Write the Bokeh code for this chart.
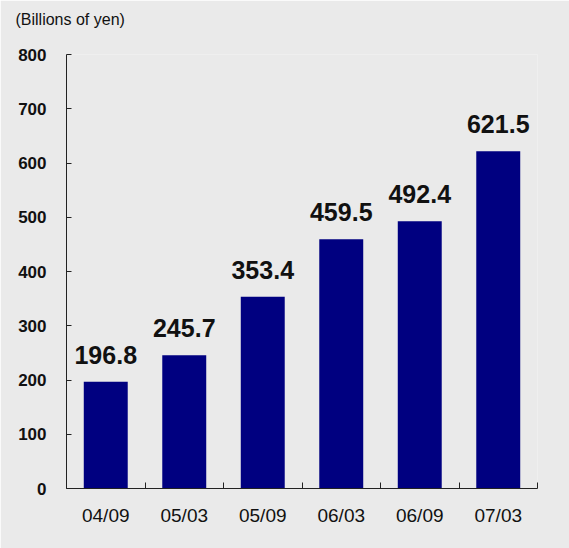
from bokeh.plotting import figure
from bokeh.models import FixedTicker, Range1d, ColumnDataSource, Title
from bokeh.core.properties import value
from bokeh.embed import file_html
from bokeh.resources import INLINE

# ---- data ----
categories = ["04/09", "05/03", "05/09", "06/03", "06/09", "07/03"]
amounts = [196.8, 245.7, 353.4, 459.5, 492.4, 621.5]
y_ticks = [0, 100, 200, 300, 400, 500, 600, 700, 800]
unit_label = "(Billions of yen)"

BG = "#EAEAEA"
BAR = "#000080"
INK = "#111111"
FONT = "Liberation Sans"

xs = [i + 0.5 for i in range(len(categories))]
src = ColumnDataSource(dict(x=xs, top=amounts, lbl=[f"{v:.1f}" for v in amounts]))

p = figure(width=569, height=548, title=None,
           x_range=Range1d(0, len(categories)), y_range=Range1d(0, 800),
           output_backend="svg", toolbar_location=None,
           min_border_left=66, min_border_right=32,
           min_border_top=54, min_border_bottom=60,
           background_fill_color=BG, border_fill_color=BG,
           outline_line_color=None)

p.vbar(x="x", top="top", width=0.56, bottom=0, source=src,
       fill_color=BAR, line_color=None)

p.text(x="x", y="top", text="lbl", source=src,
       text_align="center", text_baseline="alphabetic", y_offset=-27,
       text_font=value(FONT), text_font_style="bold",
       text_font_size="25px", text_color=INK)

# x axis
p.xaxis.ticker = FixedTicker(ticks=xs, minor_ticks=list(range(len(categories) + 1)))
p.xaxis.major_label_overrides = {x: c for x, c in zip(xs, categories)}
p.xaxis.major_tick_in = 0
p.xaxis.major_tick_out = 0
p.xaxis.minor_tick_in = 6
p.xaxis.minor_tick_out = 0
p.xaxis.minor_tick_line_color = "#222222"
p.xaxis.axis_line_color = "#222222"
p.xaxis.major_label_text_font = FONT
p.xaxis.major_label_text_font_size = "19px"
p.xaxis.major_label_text_color = INK
p.xaxis.major_label_standoff = 16

# y axis
p.yaxis.ticker = FixedTicker(ticks=y_ticks)
p.yaxis.major_tick_in = 5
p.yaxis.major_tick_out = 0
p.yaxis.minor_tick_in = 0
p.yaxis.minor_tick_out = 0
p.yaxis.axis_line_color = "#222222"
p.yaxis.major_tick_line_color = "#222222"
p.yaxis.major_label_text_font = FONT
p.yaxis.major_label_text_font_style = "bold"
p.yaxis.major_label_text_font_size = "17px"
p.yaxis.major_label_text_color = INK
p.yaxis.major_label_standoff = 20

p.xgrid.visible = False
p.ygrid.visible = False

# spacer between frame and unit label, then the unit label itself
p.add_layout(Title(text=" ", text_font_size="2px", standoff=12,
                   text_color=BG), "above")
p.add_layout(Title(text=unit_label, align="left", vertical_align="top",
                   offset=-51, standoff=18, text_font=FONT,
                   text_font_style="normal", text_font_size="16px",
                   text_color=INK), "above")

open("out.html", "w").write(file_html(p, INLINE))
